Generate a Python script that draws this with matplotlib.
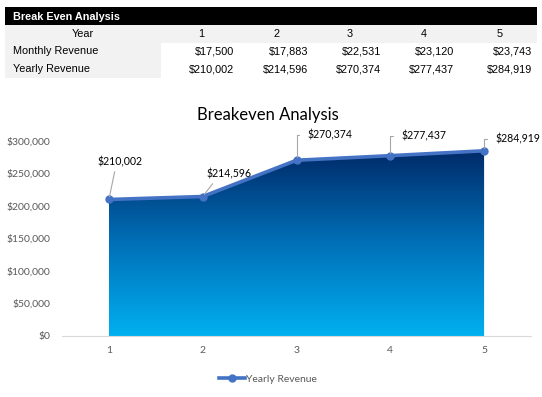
import matplotlib
matplotlib.use("Agg")
import matplotlib.pyplot as plt
import numpy as np
from matplotlib.colors import LinearSegmentedColormap
from matplotlib.patches import Polygon, Rectangle
from matplotlib.ticker import FuncFormatter

# data
years = [1, 2, 3, 4, 5]
monthly_revenue = [17500, 17883, 22531, 23120, 23743]
yearly_revenue = [210002, 214596, 270374, 277437, 284919]
row_labels = ["Year", "Monthly Revenue", "Yearly Revenue"]
y_ticks = [0, 50000, 100000, 150000, 200000, 250000, 300000]

W, H = 542, 397
CHART_FONT = "Lato"
TABLE_FONT = "Liberation Sans"
LINE_COLOR = "#4472C4"
GRAY_TXT = "#595959"


def money(v):
    return f"${v:,.0f}"


fig = plt.figure(figsize=(W / 100, H / 100), dpi=100)

# ---- table on top, drawn in pixel coordinates ----
tab = fig.add_axes([0, 0, 1, 1])
tab.set_xlim(0, W)
tab.set_ylim(H, 0)
tab.axis("off")

tab.add_patch(Rectangle((5, 7), 532, 18, color="black", lw=0))
tab.text(13, 16.5, "Break Even Analysis", color="white", fontweight="bold",
         fontsize=7.8, family=TABLE_FONT, va="center", ha="left")
tab.add_patch(Rectangle((5, 25), 532, 18, color="#f2f2f2", lw=0))
tab.add_patch(Rectangle((5, 43), 156, 35, color="#f2f2f2", lw=0))

row_y = [34, 51.5, 69]
col_center = [201, 276, 350, 424, 500]
col_right = [234, 308, 381, 454, 532]

tab.text(94, row_y[0], row_labels[0], fontsize=7.8, family=TABLE_FONT, ha="right", va="center")
for lbl, yy in zip(row_labels[1:], row_y[1:]):
    tab.text(13, yy, lbl, fontsize=7.8, family=TABLE_FONT, ha="left", va="center")
for i, yr in enumerate(years):
    tab.text(col_center[i], row_y[0], str(yr), fontsize=7.8, family=TABLE_FONT,
             ha="center", va="center")
    tab.text(col_right[i], row_y[1], money(monthly_revenue[i]), fontsize=7.8,
             family=TABLE_FONT, ha="right", va="center")
    tab.text(col_right[i], row_y[2], money(yearly_revenue[i]), fontsize=7.8,
             family=TABLE_FONT, ha="right", va="center")

# ---- chart ----
left, right, top, bottom = 62, 531, 141, 336
ax = fig.add_axes([left / W, 1 - bottom / H, (right - left) / W, (bottom - top) / H])

# gradient area
cmap = LinearSegmentedColormap.from_list("area", ["#00B0F0", "#0070B8", "#002A68"])
grad = np.linspace(0, 1, 256).reshape(-1, 1)
im = ax.imshow(grad, cmap=cmap, origin="lower", aspect="auto",
               extent=[years[0], years[-1], 0, max(yearly_revenue)], zorder=1)
verts = [(years[0], 0)] + list(zip(years, yearly_revenue)) + [(years[-1], 0)]
area = Polygon(verts, closed=True, facecolor="none", edgecolor="none",
               transform=ax.transData)
ax.add_patch(area)
im.set_clip_path(area)
ax.set_xlim(0.5, 5.5)
ax.set_ylim(0, 300000)

ax.plot(years, yearly_revenue, color=LINE_COLOR, lw=2.6, marker="o", ms=5,
        label="Yearly Revenue", zorder=3, clip_on=False)

# data labels
LBL = 7.6
lead = dict(arrowstyle="-", color="#a6a6a6", lw=0.8, shrinkB=2)
ax.annotate(money(yearly_revenue[0]), (years[0], yearly_revenue[0]), xytext=(8, 27),
            textcoords="offset points", ha="center", va="center", fontsize=LBL,
            family=CHART_FONT, arrowprops=dict(lead, relpos=(0.4, 0), shrinkA=1))
ax.annotate(money(yearly_revenue[1]), (years[1], yearly_revenue[1]), xytext=(19, 16),
            textcoords="offset points", ha="center", va="center", fontsize=LBL,
            family=CHART_FONT, arrowprops=dict(lead, relpos=(0.2, 0), shrinkA=1))
for i, dy in zip([2, 3, 4], [18, 14.5, 8.5]):
    ax.annotate(money(yearly_revenue[i]), (years[i], yearly_revenue[i]), xytext=(8, dy),
                textcoords="offset points", ha="left", va="center", fontsize=LBL,
                family=CHART_FONT,
                arrowprops=dict(lead, relpos=(0, 0.5), shrinkA=4,
                                connectionstyle="angle,angleA=0,angleB=90,rad=0"))

ax.set_xticks(years)
ax.set_yticks(y_ticks)
ax.yaxis.set_major_formatter(FuncFormatter(lambda v, _: money(v)))
ax.tick_params(axis="both", length=0, labelsize=7.5, labelcolor=GRAY_TXT)
ax.tick_params(axis="x", pad=7)
ax.tick_params(axis="y", pad=8.5)
for lbl in ax.get_xticklabels() + ax.get_yticklabels():
    lbl.set_family(CHART_FONT)
for side in ["top", "right", "left"]:
    ax.spines[side].set_visible(False)
ax.spines["bottom"].set_color("#d9d9d9")
ax.patch.set_alpha(0)

fig.text(268 / W, 1 - 115 / H, "Breakeven Analysis", ha="center", va="center",
         fontsize=12, family=CHART_FONT, color="black")

leg = fig.legend(loc="center", bbox_to_anchor=(268 / W, 1 - 379 / H), frameon=False,
                 handlelength=2.5, handletextpad=0.1,
                 prop={"family": CHART_FONT, "size": 7.5})
for t in leg.get_texts():
    t.set_color(GRAY_TXT)

fig.savefig("out.png", dpi=100)
